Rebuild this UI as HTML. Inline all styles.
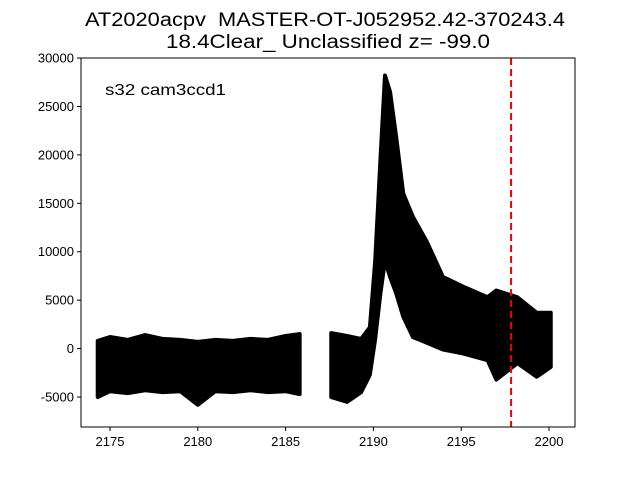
<!DOCTYPE html>
<html><head><meta charset="utf-8"><style>
body{margin:0;background:#fff}
svg{display:block;font-family:"Liberation Sans",sans-serif}
</style></head><body>
<svg id="chart" width="640" height="480">
<text x="325" y="26" font-size="19" text-anchor="middle" textLength="480" lengthAdjust="spacingAndGlyphs" xml:space="preserve">AT2020acpv  MASTER-OT-J052952.42-370243.4</text>
<text x="328" y="48" font-size="19" text-anchor="middle" textLength="324" lengthAdjust="spacingAndGlyphs">18.4Clear_ Unclassified z= -99.0</text>
<g id="plot"></g>
<rect x="81" y="58" width="494" height="369" fill="none" stroke="#000" stroke-width="1"/>
<text x="105" y="95" font-size="16" textLength="121" lengthAdjust="spacingAndGlyphs">s32 cam3ccd1</text>
</svg>
<script>
const xTicks=[2175,2180,2185,2190,2195,2200];
const yTicks=[-5000,0,5000,10000,15000,20000,25000,30000];
const seg1Time=[2174.3,2175,2176,2177,2178,2179,2180,2181,2182,2183,2184,2185,2185.8];
const seg1Upper=[800,1200,900,1400,1000,900,700,900,800,1000,900,1300,1500];
const seg1Lower=[-5000,-4400,-4600,-4300,-4500,-4400,-5800,-4400,-4500,-4300,-4500,-4400,-4700];
const seg2Time=[2187.6,2188.5,2189.3,2189.8,2190.1,2190.4,2190.66,2190.95,2191.3,2191.7,2192.25,2193.05,2193.96,2195.1,2196.5,2197.0,2198.2,2199.3,2200.1];
const seg2Upper=[1600,1300,1000,2200,9000,19500,28200,26500,21800,16000,13600,11000,7400,6400,5300,6000,5300,3700,3700];
const seg2Lower=[-5000,-5500,-4500,-2700,1000,5700,9100,7400,5700,3300,1200,600,-100,-500,-1200,-3200,-1500,-2900,-1900];
const markerTime=[2197.84];
const ns="http://www.w3.org/2000/svg";
const X=t=>110+(t-2175)*17.56;
const Y=v=>348.6-v*0.009686;
const svg=document.getElementById('chart');
const plot=document.getElementById('plot');
function mk(tag,attrs,parent){const e=document.createElementNS(ns,tag);for(const k in attrs)e.setAttribute(k,attrs[k]);parent.appendChild(e);return e;}
function band(ts,up,lo,name){
  let pts=ts.map((t,i)=>X(t)+','+Y(up[i]));
  for(let i=ts.length-1;i>=0;i--)pts.push(X(ts[i])+','+Y(lo[i]));
  const p=mk('polygon',{points:pts.join(' '),fill:'#000',stroke:'#000','stroke-width':4,'stroke-linejoin':'round'},plot);
  
  
}
band(seg1Time,seg1Upper,seg1Lower,'data-points-baseline');
band(seg2Time,seg2Upper,seg2Lower,'data-points-outburst');
markerTime.forEach(t=>{
  const l=mk('line',{x1:X(t),x2:X(t),y1:58,y2:427,stroke:'#e00','stroke-width':2,'stroke-dasharray':'7,4'},plot);
  
  
});
xTicks.forEach(t=>{
  const x=X(t);
  const tk=mk('line',{x1:x,x2:x,y1:427,y2:431,stroke:'#000'},svg);
  
  
  const tx=mk('text',{x:x,y:446,'font-size':13,'text-anchor':'middle'},svg);
  tx.textContent=t;
  
  
});
yTicks.forEach(v=>{
  const y=Y(v);
  const tk=mk('line',{x1:77,x2:81,y1:y,y2:y,stroke:'#000'},svg);
  
  
  const tx=mk('text',{x:74,y:y+4.5,'font-size':13,'text-anchor':'end'},svg);
  tx.textContent=v;
  
  
});
</script>
</body></html>
